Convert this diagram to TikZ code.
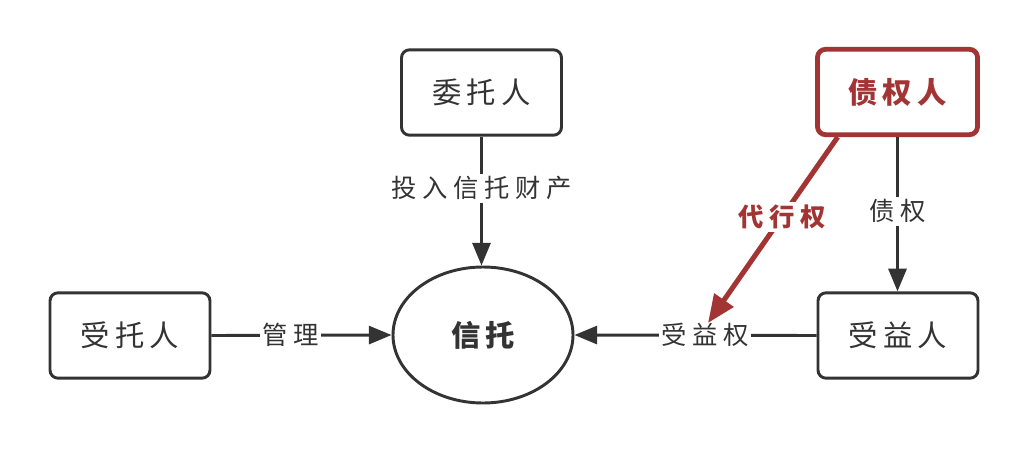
\documentclass[tikz,border=0pt]{standalone}
\usepackage{fontspec}
\setmainfont{Noto Sans CJK SC}
\newfontfamily\boxcjk[LetterSpace=18]{Noto Sans CJK SC}
\newfontfamily\labcjk[LetterSpace=22]{Noto Sans CJK SC}
\usetikzlibrary{shapes.geometric,arrows.meta}
\definecolor{ink}{RGB}{51,51,51}
\definecolor{rust}{RGB}{163,52,52}
\tikzset{
  party/.style={draw=ink, line width=2.2pt, rounded corners=6pt, minimum width=120pt, minimum height=64pt, fill=white, text=ink, font=\boxcjk\fontsize{22pt}{25pt}\selectfont},
  redparty/.style={party, draw=rust, line width=3.6pt, text=rust, font=\boxcjk\bfseries\fontsize{22pt}{25pt}\selectfont},
  trust/.style={draw=ink, ellipse, line width=2.2pt, minimum width=135pt, minimum height=102pt, text=ink, font=\boxcjk\bfseries\fontsize{22pt}{25pt}\selectfont},
  flow/.style={draw=ink, line width=2.2pt, -{Triangle[length=17pt,width=13.5pt]}},
  redflow/.style={draw=rust, line width=3.8pt, -{Triangle[length=21pt,width=17pt]}},
  lab/.style={fill=white, text=ink, inner sep=2pt, font=\labcjk\fontsize{19pt}{22pt}\selectfont},
  redlab/.style={fill=white, text=rust, inner sep=2pt, font=\labcjk\bfseries\fontsize{19pt}{22pt}\selectfont}
}
\begin{document}
\begin{tikzpicture}[x=0.75pt,y=-0.75pt]
\useasboundingbox[fill=white] (0,0) rectangle (1028,454);
\node[party] (wt) at (481.5,92.5) {委托人};
\node[redparty] (zq) at (897.5,92) {债权人};
\node[party] (st) at (130,335.5) {受托人};
\node[party] (sy) at (898,335.5) {受益人};
\node[trust] (xt) at (483,335) {信托};
\coordinate (dx) at (708,323);
\draw[flow] (wt.south) -- node[lab, pos=0.4] {投入信托财产} (wt.south |- xt.north);
\draw[flow] (st.east) -- node[lab, pos=0.44] {管理} (xt.west);
\draw[flow] (sy.west) -- node[lab, pos=0.46] {受益权} (xt.east);
\draw[flow] (zq.south) -- node[lab, pos=0.48] {债权} (zq.south |- sy.north);
\draw[redflow] (zq.217) -- node[redlab, pos=0.43] {代行权} (dx);
\end{tikzpicture}
\end{document}
